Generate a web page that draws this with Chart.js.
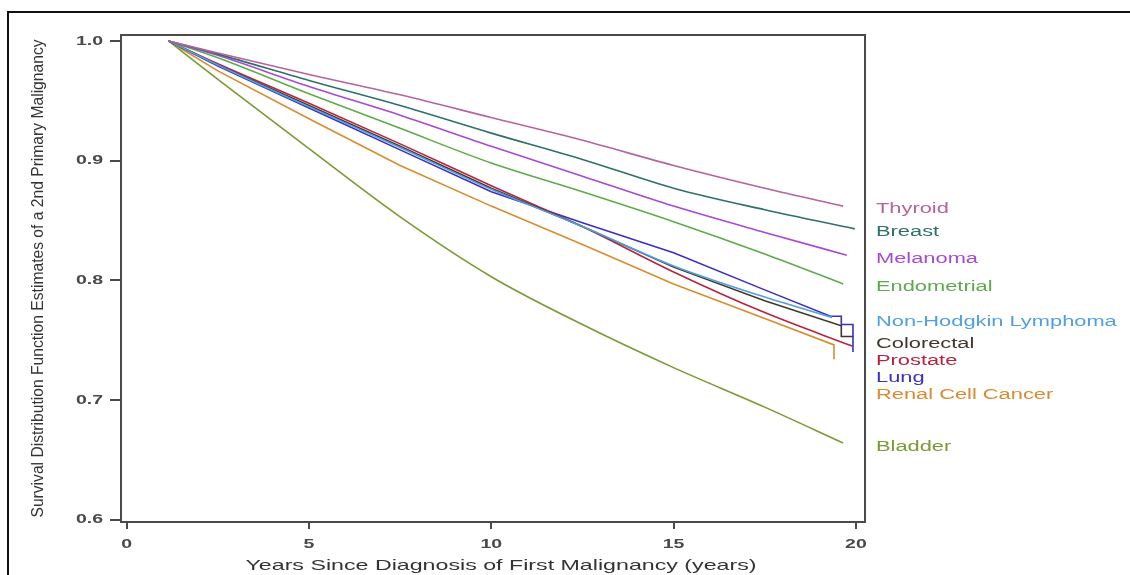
<!DOCTYPE html>
<html>
<head>
<meta charset="utf-8">
<title>Survival to a 2nd Primary Malignancy</title>
<script src="https://cdn.jsdelivr.net/npm/chart.js@4.4.1/dist/chart.umd.min.js"></script>
<style>
  html, body { margin: 0; padding: 0; background: #ffffff; overflow: hidden; }
  #wrap { position: relative; width: 1130px; height: 575px; }
</style>
</head>
<body>
<div id="wrap"><canvas id="chart"></canvas></div>
<script>
// Axis ticks
const xTicks = [0, 5, 10, 15, 20];
const xTickLabels = ['0', '5', '10', '15', '20'];
const yTicks = [0.6, 0.7, 0.8, 0.9, 1.0];
const yTickLabels = ['0.6', '0.7', '0.8', '0.9', '1.0'];

// Site of first malignancy, in label order
const sites = ['Thyroid', 'Breast', 'Melanoma', 'Endometrial', 'Non-Hodgkin Lymphoma',
               'Colorectal', 'Prostate', 'Lung', 'Renal Cell Cancer', 'Bladder'];

// Survival estimates (years since diagnosis -> probability free of a 2nd primary)
const thyroidYears = [1.15, 2.5, 5, 7.5, 10, 12.5, 15, 17.5, 19.65];
const thyroidSurv  = [1.000, 0.990, 0.972, 0.955, 0.936, 0.917, 0.896, 0.877, 0.862];

const breastYears = [1.15, 2.5, 5, 7.5, 10, 12.5, 15, 17.5, 19.97];
const breastSurv  = [1.000, 0.989, 0.967, 0.946, 0.923, 0.901, 0.877, 0.859, 0.843];

const melanomaYears = [1.15, 2.5, 5, 7.5, 10, 12.5, 15, 17.5, 19.75];
const melanomaSurv  = [1.000, 0.988, 0.962, 0.938, 0.912, 0.887, 0.862, 0.840, 0.821];

const endometrialYears = [1.15, 2.5, 5, 7.5, 10, 12.5, 15, 17.5, 19.65];
const endometrialSurv  = [1.000, 0.986, 0.956, 0.927, 0.898, 0.874, 0.849, 0.822, 0.797];

const nhlYears = [1.15, 2.5, 5, 7.5, 10, 12.5, 15, 17.5, 19.35];
const nhlSurv  = [1.000, 0.980, 0.945, 0.911, 0.876, 0.845, 0.812, 0.786, 0.769];

const colorectalYears = [1.15, 2.5, 5, 7.5, 10, 12.5, 15, 17.5, 19.6, 19.6, 19.93];
const colorectalSurv  = [1.000, 0.980, 0.946, 0.912, 0.877, 0.845, 0.811, 0.783, 0.762, 0.753, 0.753];

const prostateYears = [1.15, 2.5, 5, 7.5, 10, 12.5, 15, 17.5, 19.9];
const prostateSurv  = [1.000, 0.981, 0.948, 0.914, 0.879, 0.845, 0.807, 0.773, 0.745];

const lungYears = [1.15, 2.5, 5, 7.5, 10, 12.5, 15, 17.5, 19.3, 19.6, 19.6, 19.92, 19.92];
const lungSurv  = [1.000, 0.979, 0.944, 0.909, 0.874, 0.848, 0.823, 0.792, 0.770, 0.770, 0.763, 0.763, 0.740];

const renalYears = [1.15, 2.5, 5, 7.5, 10, 12.5, 15, 17.5, 19.4, 19.4];
const renalSurv  = [1.000, 0.975, 0.935, 0.896, 0.862, 0.830, 0.797, 0.768, 0.746, 0.734];

const bladderYears = [1.15, 2.5, 5, 7.5, 10, 12.5, 15, 17.5, 19.65];
const bladderSurv  = [1.000, 0.968, 0.910, 0.853, 0.803, 0.763, 0.727, 0.694, 0.664];

const seriesYears = [thyroidYears, breastYears, melanomaYears, endometrialYears, nhlYears,
                     colorectalYears, prostateYears, lungYears, renalYears, bladderYears];
const seriesSurv  = [thyroidSurv, breastSurv, melanomaSurv, endometrialSurv, nhlSurv,
                     colorectalSurv, prostateSurv, lungSurv, renalSurv, bladderSurv];

const siteColors = ['#b5649c', '#2f6f6a', '#a64ad6', '#5eaa4a', '#509fe0',
                    '#3f3828', '#b52440', '#3a2fc2', '#d98b2e', '#7a9a34'];

// vertical centre (px) of each site name beside the plot
const labelTops = [209, 232, 259, 287, 322, 344, 361, 378, 395, 447];

const STRETCH = 1.6;     // horizontal widening of the horizontal lettering
const FONT = '"Liberation Sans", Arial, Helvetica, sans-serif';

function wideText(ctx, text, x, y, align, sx) {
  ctx.save();
  ctx.translate(x, y);
  ctx.scale(sx, 1);
  ctx.textAlign = align;
  ctx.fillText(text, 0, 0);
  ctx.restore();
}

const frameAndText = {
  id: 'frameAndText',
  beforeDraw(chart) {
    const ctx = chart.ctx;
    ctx.save();
    ctx.fillStyle = '#ffffff';
    ctx.fillRect(0, 0, chart.width, chart.height);
    // outer panel border (top and left edges)
    ctx.fillStyle = '#111111';
    ctx.fillRect(7, 11, chart.width - 7, 2);
    ctx.fillRect(7, 11, 2, chart.height - 11);
    ctx.restore();
  },
  afterDraw(chart) {
    const ctx = chart.ctx;
    const a = chart.chartArea;
    const xs = chart.scales.x, ys = chart.scales.y;
    ctx.save();
    // plot frame
    ctx.strokeStyle = '#4a4a4a';
    ctx.lineWidth = 2;
    ctx.strokeRect(a.left, a.top, a.right - a.left, a.bottom - a.top);

    // tick labels
    ctx.fillStyle = '#4a4a4a';
    ctx.font = 'bold 13px ' + FONT;
    ctx.textBaseline = 'middle';
    yTicks.forEach((v, i) => wideText(ctx, yTickLabels[i], 103, ys.getPixelForValue(v), 'right', 1.5));
    xTicks.forEach((v, i) => wideText(ctx, xTickLabels[i], xs.getPixelForValue(v), 544, 'center', 1.5));

    // x-axis title
    ctx.fillStyle = '#333333';
    ctx.font = '14.5px ' + FONT;
    wideText(ctx, 'Years Since Diagnosis of First Malignancy (years)', 501, 566, 'center', STRETCH);

    // y-axis title (rotated, slightly condensed)
    ctx.save();
    ctx.translate(43, (a.top + a.bottom) / 2);
    ctx.rotate(-Math.PI / 2);
    ctx.scale(0.92, 1);
    ctx.font = '17px ' + FONT;
    ctx.textAlign = 'center';
    ctx.textBaseline = 'alphabetic';
    ctx.fillStyle = '#333333';
    ctx.fillText('Survival Distribution Function Estimates of a 2nd Primary Malignancy', 0, 0);
    ctx.restore();

    // site names beside the curves
    ctx.font = '14px ' + FONT;
    ctx.textBaseline = 'middle';
    sites.forEach((s, i) => {
      ctx.fillStyle = siteColors[i];
      wideText(ctx, s, 876, labelTops[i], 'left', 1.56);
    });
    ctx.restore();
  }
};

// curves that end in a staircase keep straight segments so the steps stay square
const hasSteps = ys => ys.some((x, j) => j > 0 && x === ys[j - 1]);

const datasets = sites.map((s, i) => ({
  label: s,
  data: seriesYears[i].map((x, j) => ({ x: x, y: seriesSurv[i][j] })),
  borderColor: siteColors[i],
  backgroundColor: siteColors[i],
  borderWidth: 1.6,
  pointRadius: 0,
  tension: 0,
  cubicInterpolationMode: hasSteps(seriesYears[i]) ? 'default' : 'monotone',
  fill: false
}));

new Chart(document.getElementById('chart'), {
  type: 'line',
  data: { datasets: datasets },
  plugins: [frameAndText],
  options: {
    responsive: true,
    maintainAspectRatio: false,
    animation: false,
    devicePixelRatio: 1,
    events: [],
    layout: { padding: { left: 0, top: 35, right: 265, bottom: 0 } },
    plugins: { legend: { display: false }, tooltip: { enabled: false }, title: { display: false } },
    scales: {
      x: {
        type: 'linear',
        min: -0.156,
        max: 20.25,
        afterBuildTicks: s => { s.ticks = xTicks.map(v => ({ value: v })); },
        afterFit: s => { s.height = 53; },
        ticks: { display: false },
        border: { display: false },
        grid: { drawOnChartArea: false, drawTicks: true, tickLength: 7, color: '#4a4a4a', lineWidth: 2 }
      },
      y: {
        type: 'linear',
        min: 0.598,
        max: 1.005,
        afterBuildTicks: s => { s.ticks = yTicks.map(v => ({ value: v })); },
        afterFit: s => { s.width = 121; },
        ticks: { display: false },
        border: { display: false },
        grid: { drawOnChartArea: false, drawTicks: true, tickLength: 11, color: '#4a4a4a', lineWidth: 2 }
      }
    }
  }
});
</script>
</body>
</html>
